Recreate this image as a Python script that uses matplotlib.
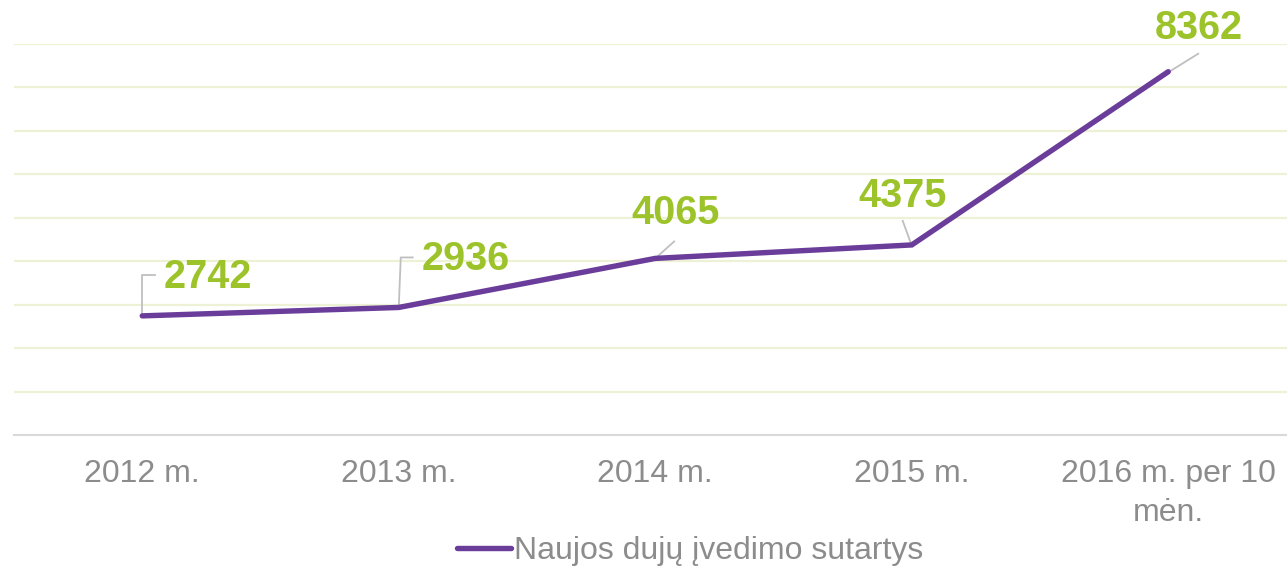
import matplotlib
matplotlib.use("Agg")
import matplotlib.pyplot as plt
import numpy as np

categories = ["2012 m.", "2013 m.", "2014 m.", "2015 m.", "2016 m. per 10\nmėn."]
values = [2742, 2936, 4065, 4375, 8362]
series_name = "Naujos dujų įvedimo sutartys"

LINE_C = "#6B3D9B"
LABEL_C = "#9DC32B"
GRID_C = "#EDF2D6"
TICK_C = "#8C8C8C"
LEADER_C = "#BFBFBF"

plt.rcParams['font.family'] = ['Liberation Sans', 'DejaVu Sans']

W, H = 1287, 568
fig = plt.figure(figsize=(W / 100, H / 100), dpi=100)
ax = fig.add_axes([14 / W, 133 / H, (1287 - 14) / W, (435 - 44) / H])

x = np.arange(len(categories))
ax.plot(x, values, color=LINE_C, lw=3.9, solid_capstyle='round', solid_joinstyle='miter',
        label=series_name, zorder=3)

ax.set_ylim(0, 9000)
ax.set_xlim(-0.5, -0.5 + (1287 - 14) / 256.5)
ax.set_yticks(np.arange(1000, 9001, 1000))
ax.yaxis.grid(True, color=GRID_C, lw=1.6)
ax.set_axisbelow(True)
ax.tick_params(axis='y', left=False, labelleft=False)
ax.set_xticks(x)
ax.set_xticklabels(categories, fontsize=23, color=TICK_C, linespacing=1.42)
ax.tick_params(axis='x', length=0, pad=17)
for s in ['top', 'right', 'left']:
    ax.spines[s].set_visible(False)
ax.spines['bottom'].set_color("#D9D9D9")
ax.spines['bottom'].set_linewidth(1.5)

# label offsets (pixels, y up) and leader polylines
label_off = [(66, 39), (67, 48), (20, 45), (-9, 49), (31, 44)]
leaders = [
    [(0, 0), (0, 41), (13, 41)],
    [(0, 0), (2, 50), (14, 50)],
    [(0, 0), (19, 17)],
    [(-1, 2), (-9, 24)],
    [(1, 0), (30, 18)],
]
fig.canvas.draw()
for i, v in enumerate(values):
    px, py = ax.transData.transform((x[i], v))
    pts = np.array([(px + dx, py + dy) for dx, dy in leaders[i]])
    ax.plot(pts[:, 0], pts[:, 1], transform=None, color=LEADER_C, lw=1.3, zorder=2,
            clip_on=False)
    dx, dy = label_off[i]
    ax.text(px + dx, py + dy, f"{v}", transform=None, ha='center', va='center',
            fontsize=28.5, fontweight='bold', color=LABEL_C, zorder=4, clip_on=False)

leg = fig.legend(loc='center', bbox_to_anchor=(690 / W, 1 - 551 / H), frameon=False,
                 fontsize=23, handlelength=1.7, handletextpad=0.1, labelcolor=TICK_C)

fig.savefig("out.png", dpi=100)
